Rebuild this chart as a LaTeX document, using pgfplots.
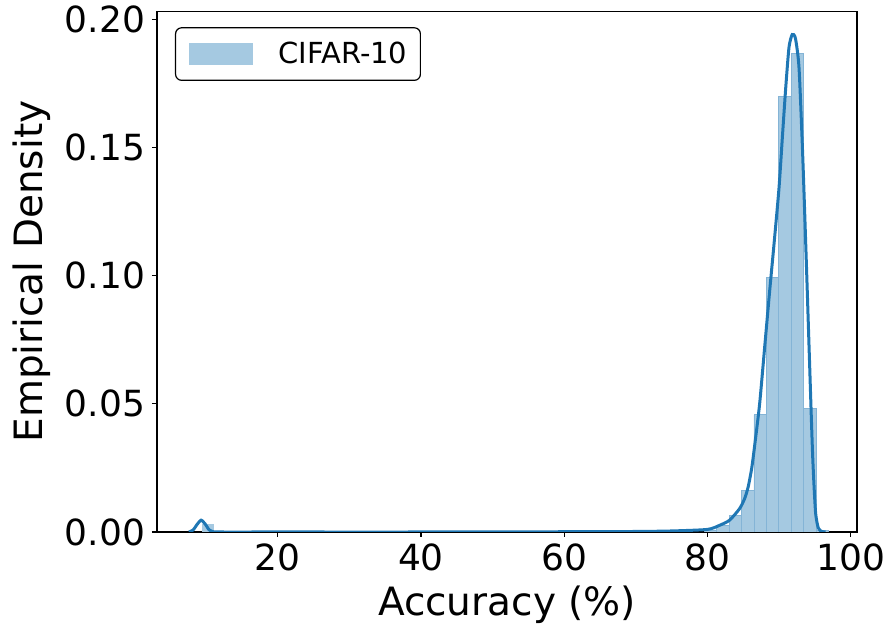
\documentclass[border=0pt]{standalone}
\usepackage{fontspec}
\setmainfont{DejaVu Sans}
\usepackage{pgfplots}
\pgfplotsset{compat=1.18}
\definecolor{c0}{HTML}{1F77B4}

\begin{document}
\begin{tikzpicture}
\path[use as bounding box] (-78.5pt,-49pt) rectangle (366.5pt,266pt);
\begin{axis}[
  scale only axis, width=350pt, height=260.4pt,
  xmin=3.14, xmax=100.9, ymin=0, ymax=0.2031,
  xtick={20,40,60,80,100}, ytick={0,0.05,0.1,0.15,0.2},
  /pgf/number format/assume math mode=true,
  yticklabel style={/pgf/number format/.cd, fixed, fixed zerofill, precision=2},
  tick align=outside, major tick length=2.5pt,
  tick style={black, line width=0.6pt},
  xtick pos=bottom, ytick pos=left,
  axis line style={black, line width=0.6pt},
  ticklabel style={font=\fontsize{18}{20}\selectfont},
  label style={font=\fontsize{19.5}{22}\selectfont},
  xlabel={Accuracy (\%)}, ylabel={Empirical Density},
  xlabel style={at={(axis description cs:0.5,-0.140)}, anchor=center},
  ylabel style={at={(axis description cs:-0.179,0.5)}, anchor=center},
  legend style={at={(rel axis cs:0,1)}, anchor=north west, xshift=9pt, yshift=-8pt,
    draw=black, rounded corners=3pt, line width=0.6pt, inner xsep=6.5pt, inner ysep=7pt,
    font=\fontsize{14.5}{16}\selectfont, nodes={inner sep=0pt}},
  legend image code/.code={\fill[c0!40, sharp corners] (0pt,-5.25pt) rectangle (31.5pt,5.25pt); \path (44.5pt,0);},
]
\addplot[ybar interval, fill=c0!40, draw=c0!55, line width=0.4pt] coordinates {
  (79.58,0.0008) (81.31,0.0026) (83.04,0.0065) (84.77,0.0163) (86.50,0.0457) (88.23,0.0993)
  (89.96,0.170) (91.70,0.1866) (93.43,0.0481) (95.16,0.0005) (96.90,0.0005)};
\addlegendentry{CIFAR-10}
\addplot[ybar interval, fill=c0!40, draw=none, forget plot] coordinates {
  (9.43,0.0033) (11.16,0.0033)};
\addplot[c0, line width=1.5pt, smooth, tension=0.4, forget plot] coordinates {
  (7.6,0) (8.2,0.0008) (8.7,0.0028) (9.3,0.0046) (9.9,0.0030) (10.4,0.0009) (11,0.0001)
  (12,0) (20,0) (40,0) (60,0.0001) (70,0.0002) (75,0.0004) (80,0.001) (81.7,0.0026)
  (83.1,0.0046) (84.5,0.0091) (85.2,0.0130) (85.7,0.0176) (86.2,0.025) (86.64,0.0345)
  (87.3,0.050) (88.0,0.072) (88.7,0.094) (89.3,0.112) (90,0.134) (90.5,0.155) (90.95,0.1735)
  (91.4,0.189) (91.85,0.194) (92.3,0.1925) (92.8,0.181) (93.3,0.148) (93.8,0.107)
  (94.25,0.068) (94.7,0.030) (95.1,0.008) (95.5,0.0015) (96,0.0002) (96.5,0)};
\end{axis}
\end{tikzpicture}
\end{document}
